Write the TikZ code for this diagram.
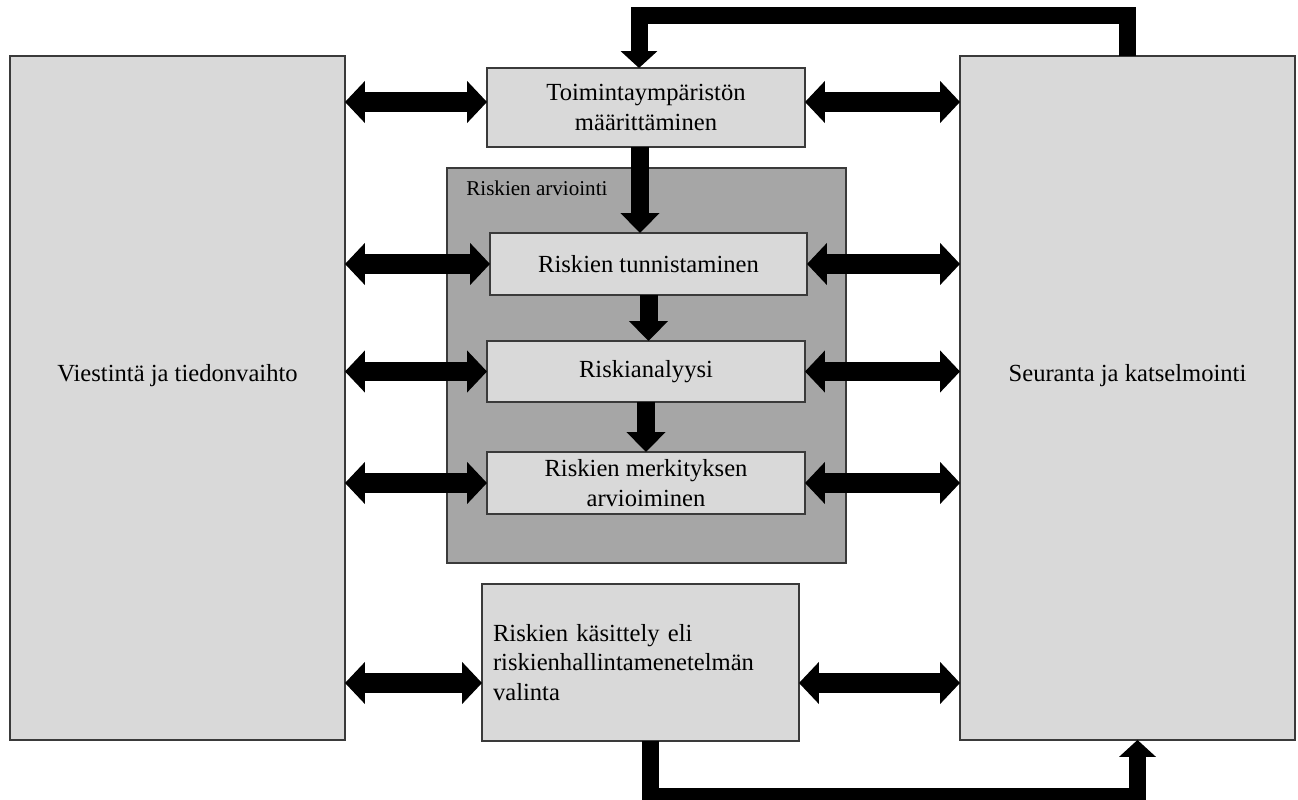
\documentclass[tikz,border=0pt]{standalone}
\usepackage{fontspec}
\setmainfont{Liberation Serif}
\usepackage{xcolor}
\usetikzlibrary{arrows.meta,positioning,calc}
\definecolor{boxgrey}{HTML}{D9D9D9}
\definecolor{areagrey}{HTML}{A6A6A6}
\definecolor{edgegrey}{HTML}{3A3A3A}

\begin{document}
\begin{tikzpicture}[x=0.02cm, y=-0.02cm,
  side/.style={rectangle, draw=edgegrey, line width=0.9pt, fill=boxgrey,
    minimum width=6.7cm, minimum height=13.68cm, inner sep=0pt, outer sep=0pt},
  stage/.style={rectangle, draw=edgegrey, line width=0.9pt, fill=boxgrey,
    minimum width=6.36cm, minimum height=1.24cm, inner sep=0pt, outer sep=0pt,
    align=center, font=\fontsize{14}{17}\selectfont},
  area/.style={rectangle, draw=edgegrey, line width=0.9pt, fill=areagrey,
    minimum width=7.98cm, minimum height=7.9cm, inner sep=0pt, outer sep=0pt},
  lbl/.style={font=\fontsize{14}{17}\selectfont, inner sep=0pt},
  arealbl/.style={font=\fontsize{12}{14}\selectfont, inner sep=0pt},
  link/.style={{Triangle[length=0.4cm,width=0.82cm]}-{Triangle[length=0.4cm,width=0.82cm]},
    line width=0.4cm, black},
  flow/.style={-{Triangle[length=0.4cm,width=0.76cm]}, line width=0.36cm, black},
  fb/.style={-{Triangle[length=0.34cm,width=0.72cm]}, line width=0.34cm, black,
    line join=miter}
]
\useasboundingbox (0,0) rectangle (1298,800);

%─── SIDE BOXES ──────────────────────────────────────────────────────────────
\node[side] (com) at (177.5,398)  {};
\node[lbl]  (comL) at (177.5,376) {Viestintä ja tiedonvaihto};

\node[side] (mon) at (1127.5,398) {};
\node[lbl]  (monL) at (1127.5,376) {Seuranta ja katselmointi};

%─── CENTRE COLUMN ───────────────────────────────────────────────────────────
\node[area] (ra) at (646.5,365.5) {};
\node[arealbl, anchor=north west] (raL) at (466,181) {Riskien arviointi};

\node[stage, minimum height=1.58cm] (ctx) at (646,107.5)
  {Toimintaympäristön\\määrittäminen};
\node[stage, minimum width=6.34cm] (idn) at (648.5,264) {Riskien tunnistaminen};
\node[stage, minimum height=1.22cm] (ana) at (646,371.5) {Riskianalyysi};
\node[stage] (evl) at (646,483) {Riskien merkityksen\\arvioiminen};

\node[stage, minimum width=6.34cm, minimum height=3.14cm, align=left,
  text width=5.9cm] (trt) at (640.5,662.5)
  {Riskien käsittely eli\\riskienhallintamenetelmän\\valinta};

%─── FLOW ────────────────────────────────────────────────────────────────────
\draw[flow] ([xshift=-0.12cm]ctx.south) -- ([xshift=-0.12cm]ctx.south |- idn.north);
\draw[flow] (idn.south) -- (idn.south |- ana.north);
\draw[flow] (ana.south) -- (evl.north);

%─── LINKS TO SIDE BOXES ─────────────────────────────────────────────────────
\foreach \n/\s in {ctx/0.11cm, idn/0cm, ana/0cm, evl/0cm, trt/-0.41cm} {
  \coordinate (w) at ([yshift=\s]\n.west);
  \coordinate (e) at ([yshift=\s]\n.east);
  \draw[link] (com.east |- w) -- (w);
  \draw[link] (e) -- (mon.west |- e);
}

%─── FEEDBACK ────────────────────────────────────────────────────────────────
\coordinate (fbtop) at (639,16);
\coordinate (fbbot) at (650,796);

\draw[fb] (mon.north) |- (fbtop) -- (fbtop |- ctx.north);
\draw[fb] (fbbot |- trt.south) -- (fbbot) -| ([xshift=0.2cm]mon.south);

\end{tikzpicture}
\end{document}
